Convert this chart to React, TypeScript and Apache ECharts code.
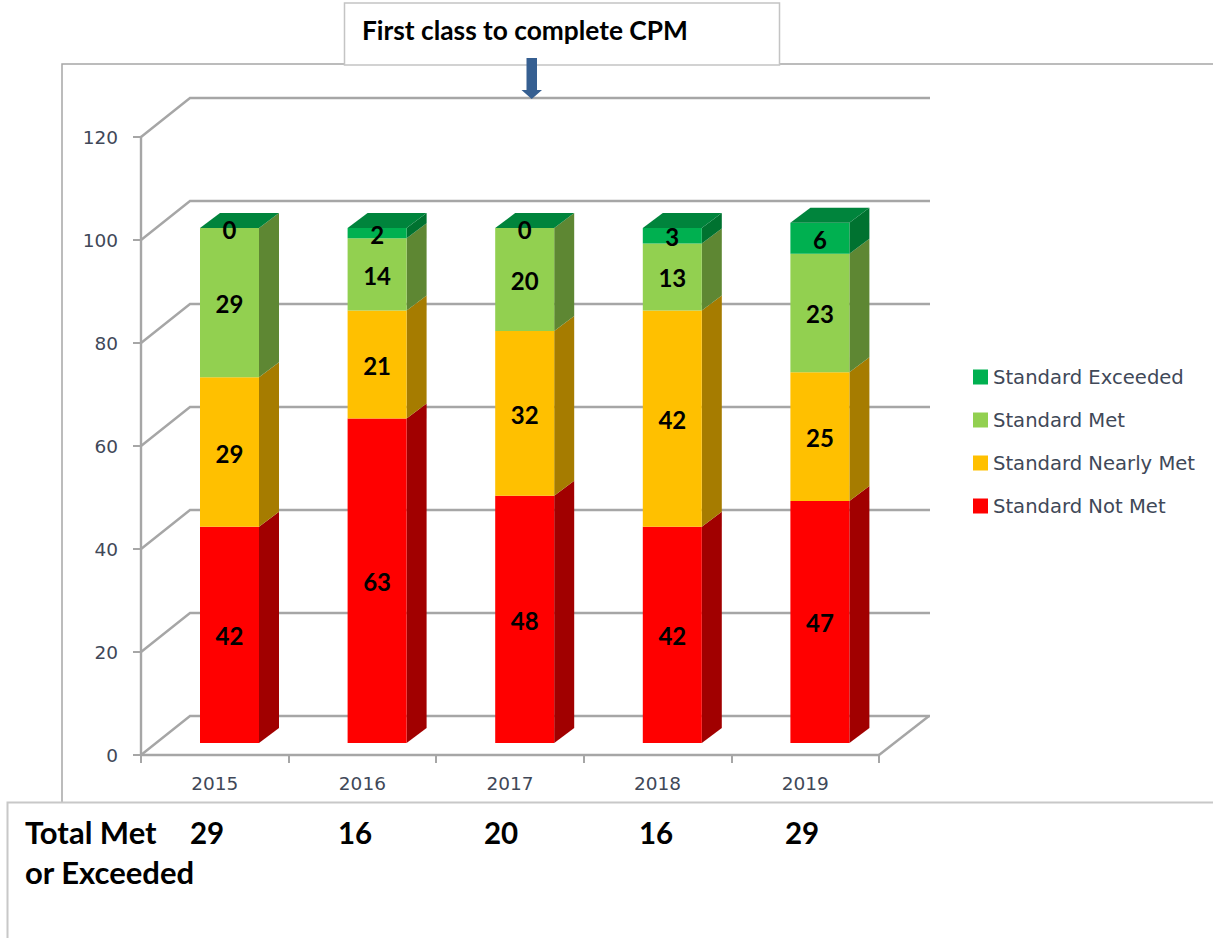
import React, { useEffect, useRef } from "react";
import * as echarts from "echarts";

const years = ["2015", "2016", "2017", "2018", "2019"];
const yTicks = [0, 20, 40, 60, 80, 100, 120];
const notMet = [42, 63, 48, 42, 47];
const nearlyMet = [29, 21, 32, 42, 25];
const met = [29, 14, 20, 13, 23];
const exceeded = [0, 2, 0, 3, 6];
const totals = [29, 16, 20, 16, 29];
const totalXs = [190, 338, 484, 639, 785];

const LABEL_FONT = "Lato";
const AXIS_FONT = "DejaVu Sans";
const GRID_LINE = "#a6a6a6";
const GRID_WIDTH = 2.4;

// Oblique offsets of the pseudo-3D box: back wall, bar placement and bar depth.
const WALL_DX = 49;
const WALL_DY = -39;
const BAR_DX = 14.7;
const BAR_DY = -12;
const BAR_W = 59;
const DEPTH_DX = 20;
const DEPTH_DY = -15;

const segments = [
  { name: "Standard Not Met", values: notMet, front: "#ff0000", side: "#a10000" },
  { name: "Standard Nearly Met", values: nearlyMet, front: "#ffc000", side: "#a67c00" },
  { name: "Standard Met", values: met, front: "#92d050", side: "#5e8733" },
  { name: "Standard Exceeded", values: exceeded, front: "#00b050", side: "#007230", top: "#00843c" },
];

function stackedRows(index: number) {
  return years.map((_, i) => {
    let start = 0;
    for (let s = 0; s < index; s++) start += segments[s].values[i];
    const v = segments[index].values[i];
    return [i, start, start + v, v];
  });
}

function renderWall(params: any, api: any) {
  const cs = params.coordSys;
  const value = api.value(1);
  const [, y] = api.coord([0, value]);
  const lineStyle = { stroke: GRID_LINE, lineWidth: GRID_WIDTH, fill: "none" };
  const x0 = cs.x;
  const x1 = cs.x + cs.width;
  const children: any[] = [
    {
      type: "polyline",
      shape: {
        points: [
          [x0, y],
          [x0 + WALL_DX, y + WALL_DY],
          [x1 + WALL_DX + 2, y + WALL_DY],
        ],
      },
      style: lineStyle,
    },
  ];
  if (value === 0) {
    children.push({
      type: "line",
      shape: { x1, y1: y, x2: x1 + WALL_DX + 1, y2: y + WALL_DY },
      style: lineStyle,
    });
  }
  return { type: "group", children };
}

function makeBarRenderer(seg: (typeof segments)[number]) {
  return (_params: any, api: any) => {
    const cat = api.value(0);
    const [cx, yBottom] = api.coord([cat, api.value(1)]);
    const [, yTop] = api.coord([cat, api.value(2)]);
    const v = api.value(3);
    const xl = cx + BAR_DX - BAR_W / 2;
    const xr = xl + BAR_W;
    const yb = yBottom + BAR_DY;
    const yt = yTop + BAR_DY;
    const children: any[] = [];
    if (yb - yt > 0) {
      children.push({
        type: "polygon",
        shape: {
          points: [
            [xr, yt],
            [xr + DEPTH_DX, yt + DEPTH_DY],
            [xr + DEPTH_DX, yb + DEPTH_DY],
            [xr, yb],
          ],
        },
        style: { fill: seg.side },
      });
      children.push({
        type: "rect",
        shape: { x: xl, y: yt, width: BAR_W, height: yb - yt },
        style: { fill: seg.front },
      });
    }
    if (seg.top) {
      children.push({
        type: "polygon",
        shape: {
          points: [
            [xl, yt],
            [xr, yt],
            [xr + DEPTH_DX, yt + DEPTH_DY],
            [xl + DEPTH_DX, yt + DEPTH_DY],
          ],
        },
        style: { fill: seg.top },
      });
    }
    children.push({
      type: "text",
      x: xl + BAR_W / 2,
      y: (yt + yb) / 2 + 1,
      style: {
        text: String(v),
        fill: "#000000",
        font: `bold 24px ${LABEL_FONT}`,
        textAlign: "center",
        textVerticalAlign: "middle",
      },
    });
    return { type: "group", children };
  };
}

const boldText = (text: string, x: number, y: number, size: number) => ({
  type: "text",
  x,
  y,
  z: 5,
  style: {
    text,
    fill: "#000000",
    font: `bold ${size}px ${LABEL_FONT}`,
    textAlign: "left",
    textVerticalAlign: "middle",
  },
});

export default function App() {
  const ref = useRef<HTMLDivElement>(null);

  useEffect(() => {
    const chart = echarts.init(ref.current!, undefined, { renderer: "svg" });
    chart.setOption({
      animation: false,
      backgroundColor: "#ffffff",
      grid: { left: 141, top: 137, width: 738, height: 618, containLabel: false },
      xAxis: {
        type: "category",
        data: years,
        axisLine: { show: true, lineStyle: { color: GRID_LINE, width: GRID_WIDTH } },
        axisTick: { show: true, length: 8, lineStyle: { color: GRID_LINE, width: 2 } },
        axisLabel: { color: "#404858", fontFamily: AXIS_FONT, fontSize: 18.5, margin: 19 },
      },
      yAxis: {
        type: "value",
        min: 0,
        max: 120,
        interval: 20,
        axisLine: { show: true, lineStyle: { color: GRID_LINE, width: GRID_WIDTH } },
        axisTick: { show: true, length: 8, lineStyle: { color: GRID_LINE, width: 2 } },
        axisLabel: { color: "#404858", fontFamily: AXIS_FONT, fontSize: 18.5, margin: 23, padding: [2, 0, 0, 0] },
        splitLine: { show: false },
      },
      legend: {
        orient: "vertical",
        left: 973,
        top: 367,
        padding: 0,
        itemWidth: 15,
        itemHeight: 15,
        itemGap: 23,
        icon: "rect",
        data: [...segments].reverse().map((s) => s.name),
        textStyle: { color: "#404858", fontFamily: AXIS_FONT, fontSize: 19.6 },
      },
      series: [
        {
          type: "custom",
          name: "wall",
          z: 1,
          silent: true,
          renderItem: renderWall,
          data: yTicks.map((t) => [0, t]),
          encode: { y: 1 },
        },
        ...segments.map((seg, i) => ({
          type: "custom",
          name: seg.name,
          z: 3 + i,
          itemStyle: { color: seg.front },
          renderItem: makeBarRenderer(seg),
          data: stackedRows(i),
          encode: { x: 0, y: [1, 2] },
        })),
      ],
      graphic: [
        // Outer chart frame.
        {
          type: "polyline",
          z: 0,
          shape: { points: [[62, 802], [62, 64], [1213, 64]] },
          style: { stroke: "#a6a6a6", lineWidth: 1.5, fill: "none" },
        },
        // Callout box and arrow.
        {
          type: "rect",
          z: 4,
          shape: { x: 344.5, y: 3, width: 435, height: 62 },
          style: { fill: "#ffffff", stroke: "#c4c4c4", lineWidth: 1.5 },
        },
        boldText("First class to complete CPM", 362, 29.5, 26.3),
        {
          type: "polygon",
          z: 6,
          shape: {
            points: [
              [526.5, 58],
              [537, 58],
              [537, 90],
              [542, 90],
              [531.7, 99],
              [521.5, 90],
              [526.5, 90],
            ],
          },
          style: { fill: "#365f91" },
        },
        // Totals panel below the chart.
        {
          type: "polyline",
          z: 4,
          shape: { points: [[7.5, 938], [7.5, 802.5], [1213, 802.5]] },
          style: { stroke: "#c8c8c8", lineWidth: 2, fill: "none" },
        },
        boldText("Total Met", 25, 832, 31),
        boldText("or Exceeded", 25, 872, 31),
        ...totals.map((t, i) => boldText(String(t), totalXs[i], 832, 29.5)),
      ],
    });
    return () => chart.dispose();
  }, []);

  return (
    <div
      ref={ref}
      style={{ position: "fixed", left: 0, top: 0, width: 1213, height: 938, background: "#ffffff" }}
    />
  );
}
